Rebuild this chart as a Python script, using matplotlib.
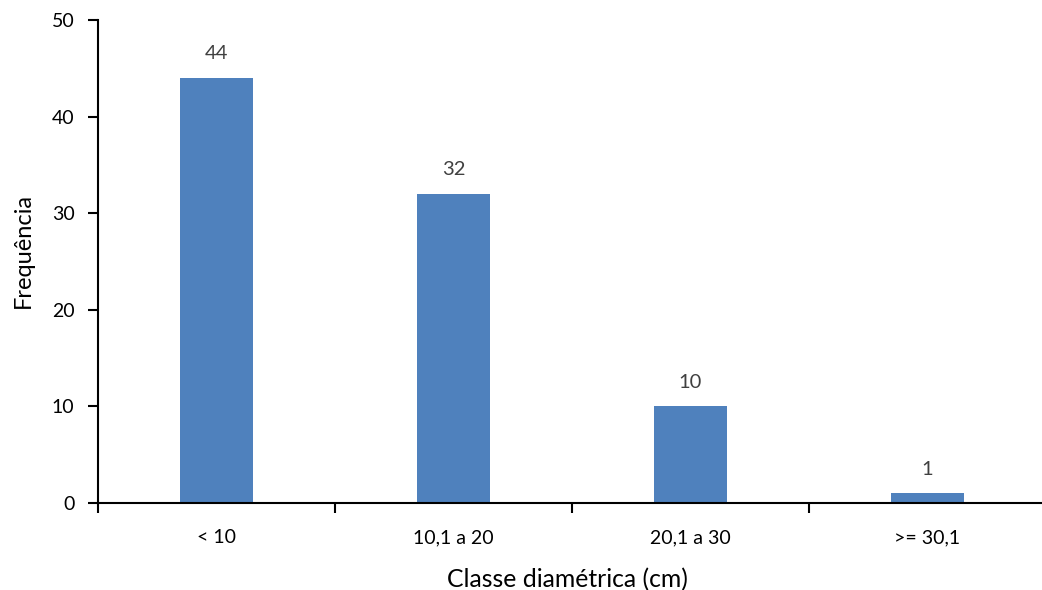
import numpy as np
import matplotlib.pyplot as plt

plt.rcParams['font.family'] = ['Lato', 'DejaVu Sans']

## the data
classes = ['< 10', '10,1 a 20', '20,1 a 30', '>= 30,1']
freq = [44, 32, 10, 1]

ind = np.arange(len(classes))
width = 0.31

fig = plt.figure(figsize=(10.42, 5.9), dpi=100)
ax = fig.add_axes([98 / 1042, 87 / 590, 948 / 1042, 483 / 590])

bars = ax.bar(ind, freq, width, color='#4F81BD')

for x, v in zip(ind, freq):
    ax.text(x, v + 2.5, str(v), ha='center', va='center',
            fontsize=14.5, color='#404040')

# axes and labels
ax.set_xlim(-0.5, len(ind) - 0.5)
ax.set_ylim(0, 50)
ax.set_yticks(np.arange(0, 51, 10))
ax.set_xticks(ind)
ax.set_xticklabels(classes)
ax.set_xticks(np.arange(-0.5, len(ind), 1), minor=True)
ax.tick_params(axis='x', which='major', length=0, pad=19, labelsize=14)
ax.tick_params(axis='x', which='minor', length=7, width=1.5, direction='out')
ax.tick_params(axis='y', length=7, width=1.5, direction='out', labelsize=14, pad=10)

for side in ['top', 'right']:
    ax.spines[side].set_visible(False)
for side in ['left', 'bottom']:
    ax.spines[side].set_linewidth(1.5)

ax.set_xlabel('Classe diamétrica (cm)', fontsize=17.8, labelpad=12)
ax.set_ylabel('Frequência', fontsize=17, labelpad=12)
ax.xaxis.set_label_coords(0.495, -0.135)
ax.yaxis.set_label_coords(-0.068, 0.523)

fig.savefig('out.png', dpi=100)
